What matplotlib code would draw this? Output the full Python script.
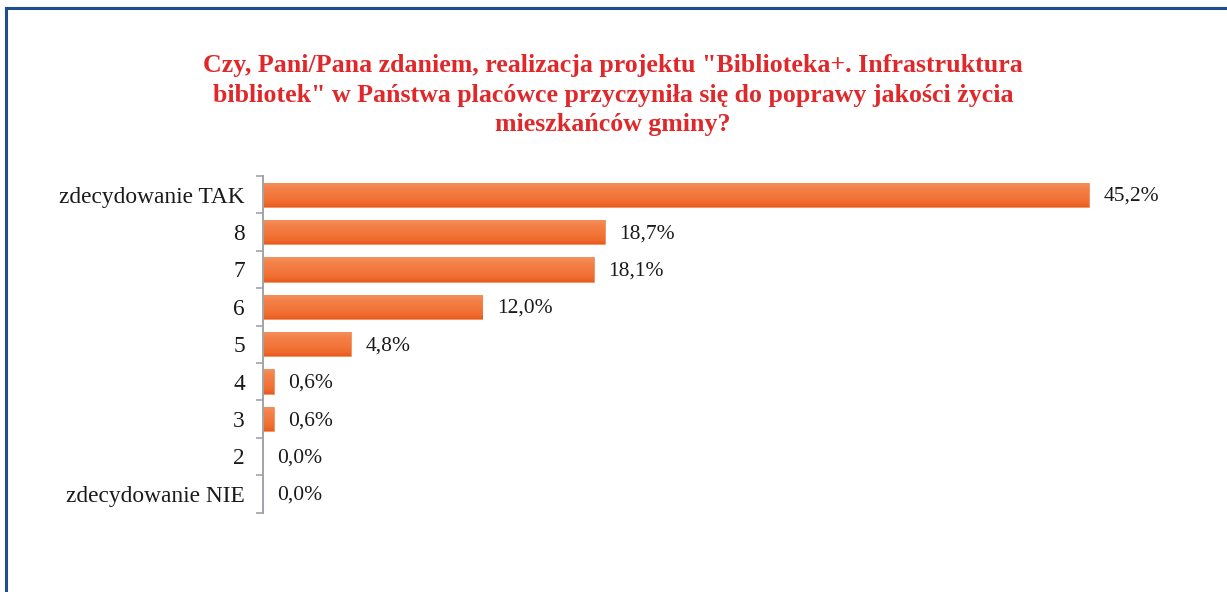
import matplotlib
matplotlib.use("Agg")
import matplotlib.pyplot as plt
from matplotlib.lines import Line2D
from matplotlib.colors import LinearSegmentedColormap
import numpy as np

categories = ["zdecydowanie TAK", "8", "7", "6", "5", "4", "3", "2", "zdecydowanie NIE"]
values = [45.2, 18.7, 18.1, 12.0, 4.8, 0.6, 0.6, 0.0, 0.0]
value_labels = ["45,2%", "18,7%", "18,1%", "12,0%", "4,8%", "0,6%", "0,6%", "0,0%", "0,0%"]
title = ('Czy, Pani/Pana zdaniem, realizacja projektu "Biblioteka+. Infrastruktura\n'
         'bibliotek" w Państwa placówce przyczyniła się do poprawy jakości życia\n'
         'mieszkańców gminy?')

W, H = 1227, 592
fig = plt.figure(figsize=(W / 100, H / 100), dpi=100)
fig.patch.set_facecolor("white")

serif = ["Liberation Serif", "DejaVu Serif"]

# border (top and left)
fig.add_artist(Line2D([6 / W, 1], [1 - 8 / H, 1 - 8 / H], transform=fig.transFigure,
                      color="#1F4E8C", lw=2.2))
fig.add_artist(Line2D([6 / W, 6 / W], [0, 1 - 8 / H], transform=fig.transFigure,
                      color="#1F4E8C", lw=2.2))

fig.text(613 / W, 1 - 95 / H, title, ha="center", va="center", color="#E0282A",
         fontsize=18.6, fontweight="bold", family=serif, linespacing=1.36)

ax_left = 263 / W
ax_bottom = (H - 512.5) / H
ax_h = (512.5 - 176) / H
xmax = 50
px_per = (1089 - 263) / 45.2
ax_w = xmax * px_per / W
ax = fig.add_axes([ax_left, ax_bottom, ax_w, ax_h])

y = np.arange(len(categories))
bars = ax.barh(y, values, height=0.65, color="#F2783A", edgecolor="#F39060", linewidth=0.6)
ax.set_ylim(len(categories) - 0.5, -0.5)
ax.set_xlim(0, xmax)

cmap = LinearSegmentedColormap.from_list(
    "og", [(0, "#F5925E"), (0.25, "#F48048"), (0.6, "#F2763A"), (0.85, "#EE6A2C"), (1, "#E85A1E")])
grad = np.linspace(0, 1, 64).reshape(-1, 1)
for b in bars:
    w = b.get_width()
    if w <= 0:
        continue
    x0, yb = b.get_x(), b.get_y()
    hgt = b.get_height()
    im = ax.imshow(grad, cmap=cmap, aspect="auto", origin="upper",
                   extent=[x0, x0 + w, yb + hgt, yb], zorder=2, interpolation="bilinear")
    im.set_clip_path(b)
ax.set_xlim(0, xmax)
ax.set_ylim(len(categories) - 0.5, -0.5)

for yi, v, lab in zip(y, values, value_labels):
    ax.annotate(lab, (v, yi), xytext=(10.5, -1.2), textcoords="offset points",
                ha="left", va="center", fontsize=15.5, family=serif, color="#1a1a1a")

ax.set_yticks(y)
ax.set_yticklabels(categories, family=serif, fontsize=16.8, color="#1a1a1a")
ax.set_yticks(np.arange(-0.5, len(categories)), minor=True)
ax.tick_params(axis="y", which="major", length=0, pad=13)
ax.tick_params(axis="y", which="minor", length=5, width=1.2, color="#A0A4A8")
ax.set_xticks([])
for s in ["top", "right", "bottom"]:
    ax.spines[s].set_visible(False)
ax.spines["left"].set_color("#A0A4A8")
ax.spines["left"].set_linewidth(1.4)
ax.patch.set_alpha(0)

fig.savefig("out.png", dpi=100)
